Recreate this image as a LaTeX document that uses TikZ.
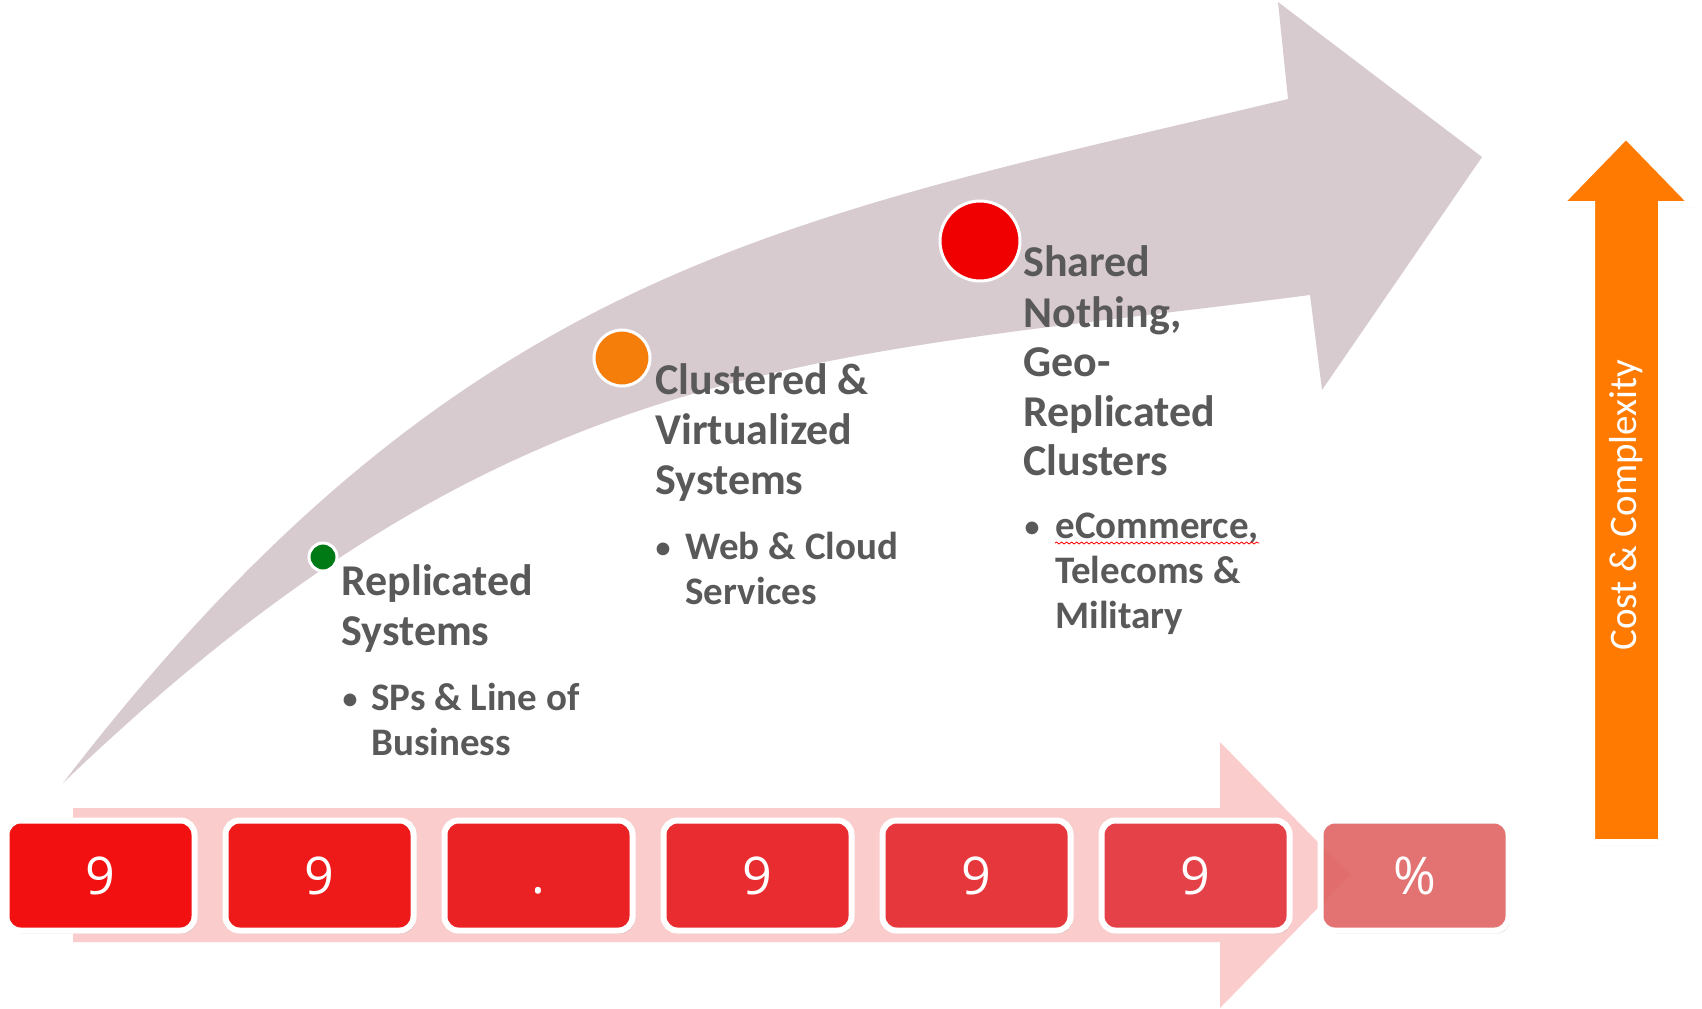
\documentclass[tikz,border=0pt]{standalone}
\usepackage{fontspec}
\setmainfont{Carlito}
\newfontfamily\digitfont{Open Sans}
\usetikzlibrary{shadows,decorations.pathmorphing}
\definecolor{bandgrey}{RGB}{216,203,207}
\definecolor{pinkband}{RGB}{251,204,204}
\definecolor{txtgrey}{RGB}{89,89,89}
\definecolor{dotgreen}{RGB}{0,122,20}
\definecolor{dotorange}{RGB}{245,125,10}
\definecolor{dotred}{RGB}{240,0,0}
\definecolor{arrorange}{RGB}{255,122,0}
\definecolor{cA}{RGB}{242,16,16}
\definecolor{cB}{RGB}{238,26,26}
\definecolor{cC}{RGB}{234,34,36}
\definecolor{cD}{RGB}{232,44,48}
\definecolor{cE}{RGB}{230,56,60}
\definecolor{cF}{RGB}{228,66,72}
\definecolor{cG}{RGB}{228,100,100}
\begin{document}
\begin{tikzpicture}[x=0.5pt,y=-0.5pt,
  head/.style={anchor=base west, inner sep=0, text=txtgrey, font=\bfseries\fontsize{22}{24}\selectfont},
  item/.style={anchor=base west, inner sep=0, text=txtgrey, font=\bfseries\fontsize{19.5}{22}\selectfont},
  bul/.style={anchor=base, inner sep=0, text=txtgrey, font=\fontsize{18}{20}\selectfont},
  dot/.style={circle, draw=white, line width=1.5pt, inner sep=0},
  digitbox/.style={rounded corners=7pt, draw=white, line width=3pt, minimum width=94pt, minimum height=55pt, inner sep=0, text=white, font=\digitfont\fontsize{26}{30}\selectfont, drop shadow={shadow xshift=1pt, shadow yshift=-1.5pt, opacity=0.3}},
]
\useasboundingbox (0,0) rectangle (1702,1008);
% curved grey arrow
\fill[bandgrey] (63,783) .. controls (463,263) and (788,219) .. (1288,99)
  -- (1278,2) -- (1482,157) -- (1322,390) -- (1310,295)
  .. controls (810,360) and (513,351) .. (63,783) -- cycle;
% pink band arrow
\fill[pinkband] (73,808) -- (1220,808) -- (1220,742) -- (1350,875) -- (1220,1008) -- (1220,942) -- (73,942) -- cycle;
% orange arrow
\draw[white, line width=3pt, fill=arrorange, line join=miter, drop shadow={shadow xshift=1pt, shadow yshift=-1.5pt, opacity=0.25}]
  (1592,842) -- (1592,204) -- (1560,204) -- (1626,136) -- (1692,204) -- (1661,204) -- (1661,842) -- cycle;
\node[rotate=90, text=white, font=\fontsize{19.5}{22}\selectfont, inner sep=0] (cc) at (1626,505) {Cost \& Complexity};
% digit boxes
\node[digitbox, fill=cA] (b1) at (100.5,875.5) {9};
\node[digitbox, fill=cB] (b2) at (319.5,875.5) {9};
\node[digitbox, fill=cC] (b3) at (538.5,875.5) {\vphantom{9}.};
\node[digitbox, fill=cD] (b4) at (757.5,875.5) {9};
\node[digitbox, fill=cE] (b5) at (976.5,875.5) {9};
\node[digitbox, fill=cF] (b6) at (1195.5,875.5) {9};
\node[digitbox, fill=cG, fill opacity=0.88, text opacity=1] (b7) at (1414.5,875.5) {\%};
% dots
\node[dot, fill=dotgreen, minimum size=14pt] (g) at (323,557) {};
\node[dot, fill=dotorange, minimum size=28pt] (o) at (622,358) {};
\node[dot, fill=dotred, minimum size=40pt] (r) at (980,241) {};
% block 1
\node[head] (t1a) at (341,595) {Replicated};
\node[head] (t1b) at (341,645) {Systems};
\node[bul] (u1) at (350,710) {•};
\node[item] (i1a) at (371,710) {SPs \& Line of};
\node[item] (i1b) at (371,755) {Business};
% block 2
\node[head] (t2a) at (655,394) {Clustered \&};
\node[head] (t2b) at (655,444) {Virtualized};
\node[head] (t2c) at (655,494) {Systems};
\node[bul] (u2) at (663,559) {•};
\node[item] (i2a) at (685,559) {Web \& Cloud};
\node[item] (i2b) at (685,604) {Services};
% block 3
\node[head] (t3a) at (1023,276) {Shared};
\node[head] (t3b) at (1023,327) {Nothing,};
\node[head] (t3c) at (1023,376) {Geo-};
\node[head] (t3d) at (1023,426) {Replicated};
\node[head] (t3e) at (1023,475) {Clusters};
\node[bul] (u3) at (1032,538) {•};
\node[item] (i3a) at (1055,538) {eCommerce,};
\node[item] (i3b) at (1055,583) {Telecoms \&};
\node[item] (i3c) at (1055,628) {Military};
\draw[red, line width=0.4pt, decorate, decoration={snake, amplitude=0.5pt, segment length=2.5pt}]
  ([yshift=-2.5pt]i3a.base west) -- ([yshift=-2.5pt]i3a.base east);
\end{tikzpicture}
\end{document}
